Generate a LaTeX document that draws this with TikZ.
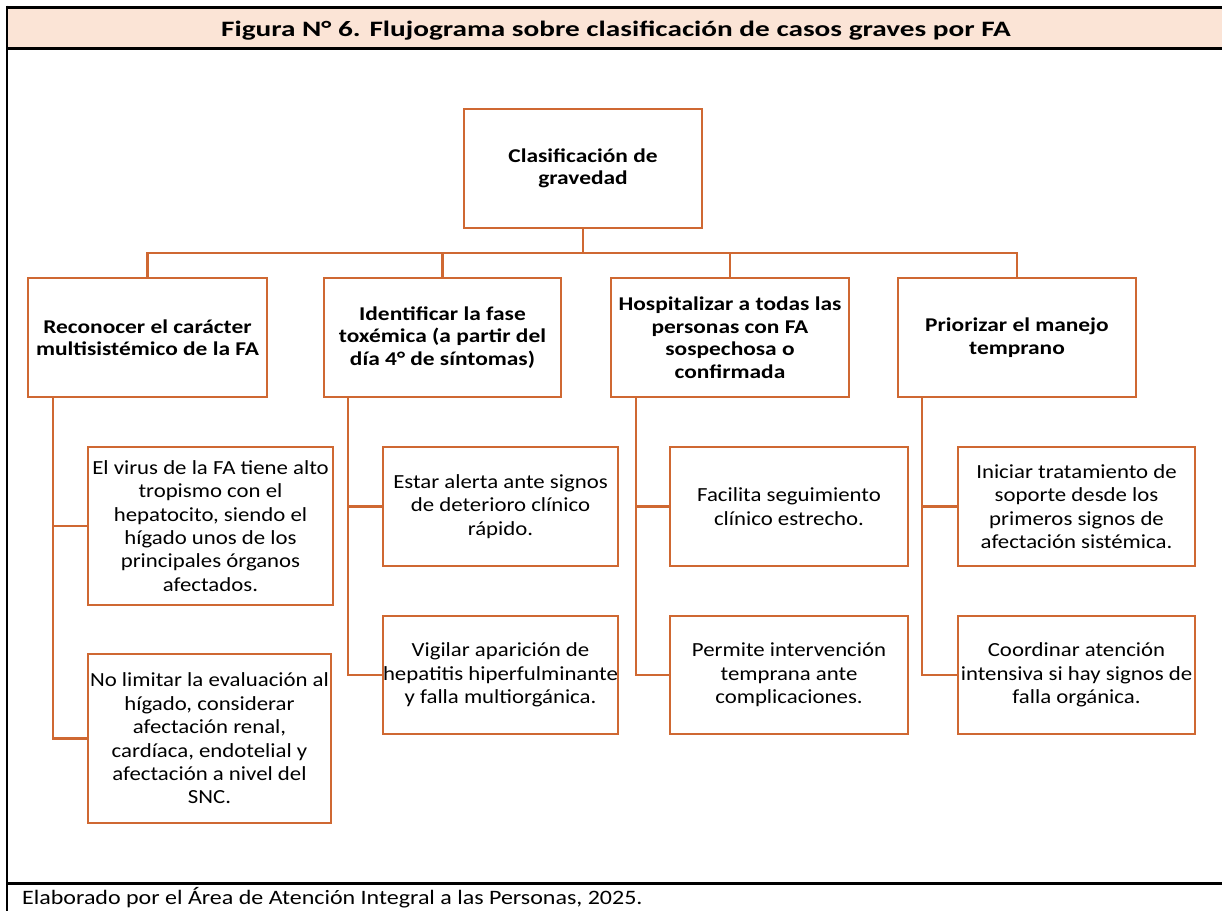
\documentclass[tikz,border=0pt]{standalone}
\usepackage{fontspec}
\setmainfont{Carlito}[FakeStretch=1.14]
\newfontfamily\headfont{Carlito}[FakeStretch=1.2]
\newfontfamily\titlefont{Carlito}[FakeStretch=1.33]
\newfontfamily\footfont{Carlito}[FakeStretch=1.17]
\definecolor{boxorange}{RGB}{207,104,50}
\definecolor{titlefill}{RGB}{251,228,214}
\begin{document}
\begin{tikzpicture}[x=1pt,y=-1pt,
  box/.style={draw=boxorange, line width=2.6pt, fill=white, inner sep=0pt, outer sep=0pt, align=center},
  head/.style={box, font=\headfont\bfseries\fontsize{19.5}{22.5}\selectfont},
  body/.style={box, font=\fontsize{20}{23.4}\selectfont},
  link/.style={draw=boxorange, line width=2.6pt}]
\useasboundingbox (0,0) rectangle (1222,911);
\fill[white] (0,0) rectangle (1222,911);
\fill[titlefill] (7,7) rectangle (1222,48);
\draw[line width=3pt] (7,7) -- (1222,7);
\draw[line width=3pt] (7,48) -- (1222,48);
\draw[line width=3pt] (7,883) -- (1222,883);
\draw[line width=1.8pt] (7,5.5) -- (7,911);

\node[anchor=base, inner sep=0pt, font=\titlefont\bfseries\fontsize{22}{24}\selectfont] (title) at (616,36) {Figura N° 6. Flujograma sobre clasificación de casos graves por FA};
\node[anchor=base west, inner sep=0pt, font=\footfont\fontsize{20.5}{22}\selectfont] (foot) at (22,904) {Elaborado por el Área de Atención Integral a las Personas, 2025.};

\coordinate (bus) at (0,253);

\node[head, minimum width=238pt, minimum height=119pt] (top) at (583,168.5) {Clasificación de\\gravedad};

\node[head, minimum width=239pt, minimum height=119pt] (r1) at (147.5,337.5) {Reconocer el carácter\\multisistémico de la FA};
\node[head, minimum width=237pt, minimum height=119pt] (r2) at (442.5,337.5) {Identificar la fase\\toxémica (a partir del\\día 4° de síntomas)};
\node[head, minimum width=238pt, minimum height=119pt] (r3) at (730,337.5) {Hospitalizar a todas las\\personas con FA\\sospechosa o\\confirmada};
\node[head, minimum width=238pt, minimum height=119pt] (r4) at (1017,337.5) {Priorizar el manejo\\temprano};

\node[body, minimum width=245pt, minimum height=158pt] (a1) at (210.5,526) {El virus de la FA tiene alto\\tropismo con el\\hepatocito, siendo el\\hígado unos de los\\principales órganos\\afectados.};
\node[body, minimum width=243pt, minimum height=169pt] (a2) at (209.5,738.5) {No limitar la evaluación al\\hígado, considerar\\afectación renal,\\cardíaca, endotelial y\\afectación a nivel del\\SNC.};

\node[body, minimum width=235pt, minimum height=119pt] (b1) at (500.5,506.5) {Estar alerta ante signos\\de deterioro clínico\\rápido.};
\node[body, minimum width=235pt, minimum height=118pt] (b2) at (500.5,675) {Vigilar aparición de\\hepatitis hiperfulminante\\y falla multiorgánica.};

\node[body, minimum width=238pt, minimum height=119pt] (c1) at (789,506.5) {Facilita seguimiento\\clínico estrecho.};
\node[body, minimum width=238pt, minimum height=118pt] (c2) at (789,675) {Permite intervención\\temprana ante\\complicaciones.};

\node[body, minimum width=237pt, minimum height=119pt] (d1) at (1076.5,506.5) {Iniciar tratamiento de\\soporte desde los\\primeros signos de\\afectación sistémica.};
\node[body, minimum width=237pt, minimum height=118pt] (d2) at (1076.5,675) {Coordinar atención\\intensiva si hay signos de\\falla orgánica.};

% top level bus
\draw[link] (top.south) -- (top.south |- bus);
\draw[link] (r1.north) -- (r1.north |- bus) -- (r4.north |- bus) -- (r4.north);
\draw[link] (r2.north) -- (r2.north |- bus);
\draw[link] (r3.north) -- (r3.north |- bus);

% column stems
\draw[link] ([xshift=25pt]r1.south west) |- (a2.west);
\draw[link] ([xshift=25pt]r1.south west |- a1.west) -- (a1.west);
\draw[link] ([xshift=24pt]r2.south west) |- (b2.west);
\draw[link] ([xshift=24pt]r2.south west |- b1.west) -- (b1.west);
\draw[link] ([xshift=25pt]r3.south west) |- (c2.west);
\draw[link] ([xshift=25pt]r3.south west |- c1.west) -- (c1.west);
\draw[link] ([xshift=24pt]r4.south west) |- (d2.west);
\draw[link] ([xshift=24pt]r4.south west |- d1.west) -- (d1.west);
\end{tikzpicture}
\end{document}
